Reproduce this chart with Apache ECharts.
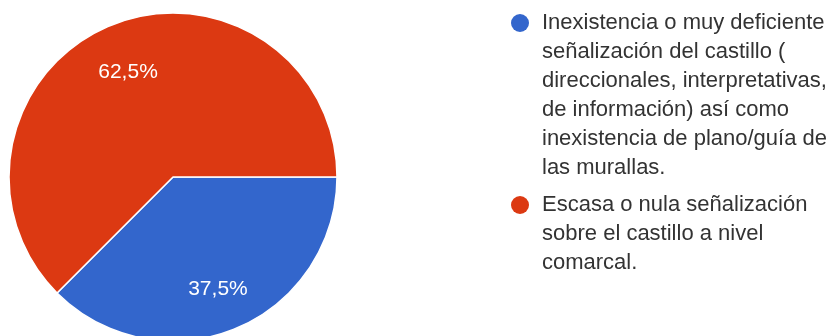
<!DOCTYPE html>
<html>
<head>
<meta charset="utf-8">
<script src="https://cdn.jsdelivr.net/npm/echarts@6/dist/echarts.min.js"></script>
<style>
  html, body { margin: 0; padding: 0; background: #ffffff; }
  #chart { width: 829px; height: 336px; }
</style>
</head>
<body>
<div id="chart"></div>
<script>
// Survey answers: number of responses per option
const categories = [
  'Inexistencia o muy deficiente señalización del castillo ( direccionales, interpretativas, de información) así como inexistencia de plano/guía de las murallas.',
  'Escasa o nula señalización sobre el castillo a nivel comarcal.'
];
const values = [3, 5];
// Legend text, already broken into lines
const legendLines = [
  ['Inexistencia o muy deficiente', 'señalización del castillo (', 'direccionales, interpretativas,', 'de información) así como', 'inexistencia de plano/guía de', 'las murallas.'],
  ['Escasa o nula señalización', 'sobre el castillo a nivel', 'comarcal.']
];
const colors = ['#3366cc', '#dc3912'];

const FONT = '"Liberation Sans", Arial, Helvetica, sans-serif';
const data = categories.map((name, i) => ({ name: name, value: values[i] }));

const rich = {
  sp: { width: 18, height: 18 },
  t: { fontSize: 22, fontFamily: FONT, color: '#333333', lineHeight: 29, padding: [0, 0, 0, 13] }
};
colors.forEach((c, i) => {
  rich['d' + i] = { width: 18, height: 18, borderRadius: 9, backgroundColor: c, verticalAlign: 'middle' };
});

const chart = echarts.init(document.getElementById('chart'), null, { renderer: 'canvas' });
chart.setOption({
  backgroundColor: '#ffffff',
  animation: false,
  color: colors,
  legend: {
    orient: 'vertical',
    left: 500,
    top: 3.5,
    itemWidth: 0,
    itemHeight: 0,
    itemGap: 8,
    selectedMode: false,
    data: categories,
    formatter: function (name) {
      const i = categories.indexOf(name);
      return legendLines[i].map((line, j) => (j === 0 ? '{d' + i + '|}' : '{sp|}') + '{t|' + line + '}').join('\n');
    },
    textStyle: { rich: rich, lineHeight: 29 }
  },
  series: [
    {
      type: 'pie',
      center: [173, 177],
      radius: 164,
      startAngle: 0,
      clockwise: true,
      silent: true,
      label: { show: false },
      labelLine: { show: false },
      itemStyle: { borderColor: '#ffffff', borderWidth: 1.5 },
      data: data
    },
    {
      // percentage labels, a little further out and lower than the slice midpoint
      type: 'pie',
      center: [173, 181],
      radius: [66, 163],
      startAngle: 0,
      clockwise: true,
      silent: true,
      itemStyle: { color: 'rgba(0,0,0,0)', borderWidth: 0 },
      label: {
        show: true,
        position: 'inside',
        color: '#ffffff',
        fontSize: 21,
        fontFamily: FONT,
        formatter: p => p.percent.toFixed(1).replace('.', ',') + '%'
      },
      labelLine: { show: false },
      data: data
    }
  ]
});
</script>
</body>
</html>
